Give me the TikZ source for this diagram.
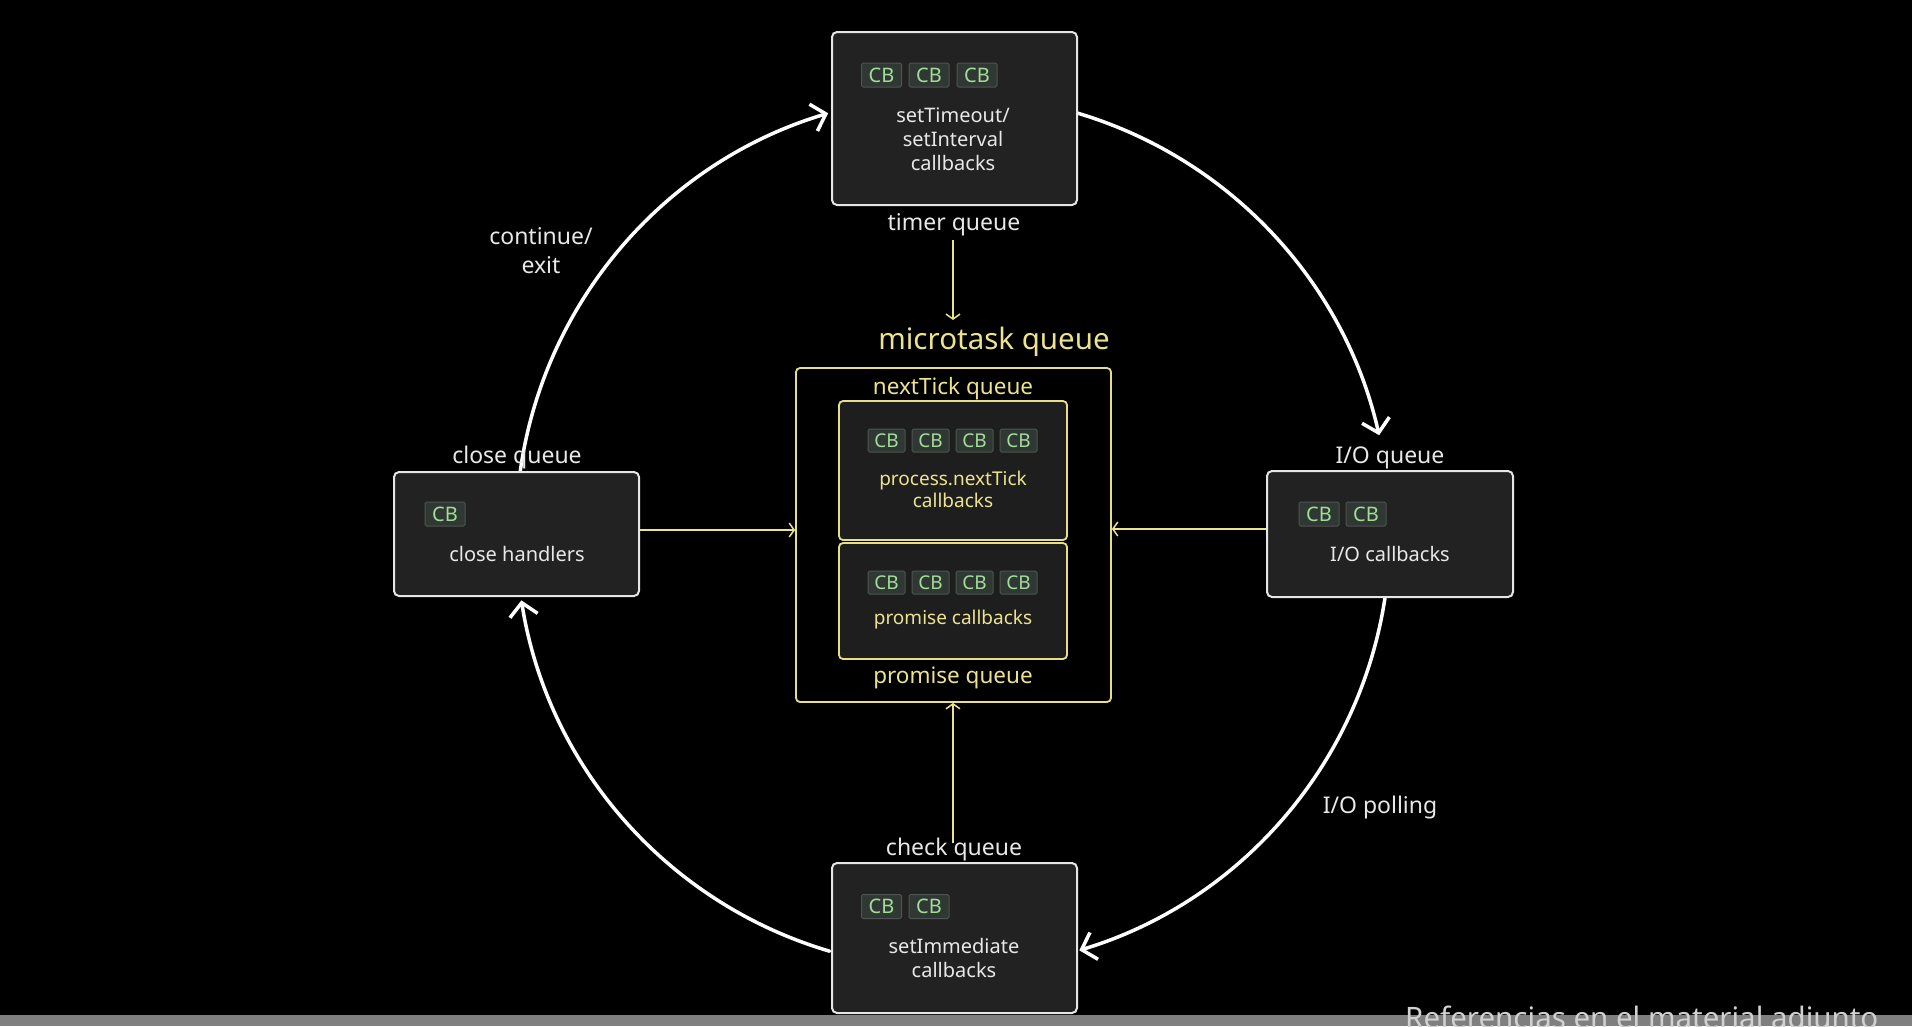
\documentclass[tikz,border=0pt]{standalone}
\usepackage{fontspec}
\setmainfont{Noto Sans}
\usetikzlibrary{arrows.meta,calc}
\definecolor{txtw}{HTML}{E8E8E8}
\definecolor{boxbg}{HTML}{222222}
\definecolor{boxln}{HTML}{E6E6E6}
\definecolor{yel}{HTML}{ECE391}
\definecolor{yelln}{HTML}{E8DE88}
\definecolor{innerbg}{HTML}{1E1E1E}
\definecolor{chipbg}{HTML}{2F3832}
\definecolor{chipln}{HTML}{4E5550}
\definecolor{chipgreen}{HTML}{A4DC9C}
\definecolor{barcol}{HTML}{7F7F7F}
\begin{document}
\begin{tikzpicture}[x=1pt,y=1pt,
  mainbox/.style={draw=boxln, fill=boxbg, line width=2pt, rounded corners=5pt, inner sep=0pt},
  microbox/.style={draw=yelln, fill=black, line width=1.8pt, rounded corners=4pt, inner sep=0pt},
  innerbox/.style={draw=yelln, fill=innerbg, line width=1.8pt, rounded corners=4pt, inner sep=0pt},
  chip/.style={fill=chipbg, draw=chipln, line width=1pt, rounded corners=1.5pt, text=chipgreen,
    font=\fontsize{20}{20}\selectfont, minimum width=40pt, minimum height=24pt, inner sep=0pt},
  mchip/.style={chip, minimum width=37pt, minimum height=23pt, font=\fontsize{19}{19}\selectfont},
  boxtext/.style={text=txtw, align=center, inner sep=0pt, font=\fontsize{20}{24}\selectfont},
  ytext/.style={text=yel, align=center, inner sep=0pt, font=\fontsize{19}{22}\selectfont},
  qlabel/.style={text=txtw, inner sep=0pt, text height=0.75em, text depth=0.25em, font=\fontsize{23}{23}\selectfont},
  yqlabel/.style={text=yel, inner sep=0pt, text height=0.75em, text depth=0.25em, font=\fontsize{22.5}{22.5}\selectfont},
  ring/.style={draw=white, line width=3.5pt, line cap=round, -{Straight Barb[length=13pt,width=28pt]}},
  yarrow/.style={draw=yel, line width=1.5pt, -{Straight Barb[length=5pt,width=14pt]}}
]
\useasboundingbox (0,0) rectangle (1912,-1026);
\clip (0,0) rectangle (1912,-1026);
\fill[black] (0,0) rectangle (1912,-1026);

% ring arcs
\coordinate (C) at (953,-532);
\coordinate (t-out) at ($(C)+(73.55:437)$);
\coordinate (io-out) at ($(C)+(-8.5:437)$);
\coordinate (ch-out) at ($(C)+(-106.4:437)$);
\coordinate (cl-out) at ($(C)+(172:437)$);
\draw[ring] (t-out) arc[start angle=73.55, end angle=12.8, radius=437];
\draw[ring] (io-out) arc[start angle=-8.5, end angle=-73.2, radius=437];
\draw[ring] (ch-out) arc[start angle=-106.4, end angle=-171.0, radius=437];
\draw[ring] (cl-out) arc[start angle=172, end angle=106.6, radius=437];

% main boxes
\node[mainbox, minimum width=245pt, minimum height=173pt] (timer) at (954.5,-118.5) {};
\node[mainbox, minimum width=245pt, minimum height=124pt] (close) at (516.5,-534) {};
\node[mainbox, minimum width=246pt, minimum height=126pt] (io) at (1390,-534) {};
\node[mainbox, minimum width=245pt, minimum height=150pt] (check) at (954.5,-938) {};

% microtask
\node[microbox, minimum width=315pt, minimum height=334pt] (micro) at (953.5,-535) {};
\node[innerbox, minimum width=228pt, minimum height=139pt] (ntbox) at (953,-470.5) {};
\node[innerbox, minimum width=228pt, minimum height=116pt] (prbox) at (953,-601) {};

% chips
\node[chip] (t1) at (881.5,-75) {CB};
\node[chip] (t2) at (929,-75) {CB};
\node[chip] (t3) at (977,-75) {CB};
\node[chip] (c1) at (445,-514) {CB};
\node[chip] (i1) at (1319,-514) {CB};
\node[chip] (i2) at (1366,-514) {CB};
\node[chip] (k1) at (881.5,-906.5) {CB};
\node[chip] (k2) at (929,-906.5) {CB};
\node[mchip] (n1) at (886.5,-440.5) {CB};
\node[mchip] (n2) at (930.5,-440.5) {CB};
\node[mchip] (n3) at (974.5,-440.5) {CB};
\node[mchip] (n4) at (1018.5,-440.5) {CB};
\node[mchip] (p1) at (886.5,-582.5) {CB};
\node[mchip] (p2) at (930.5,-582.5) {CB};
\node[mchip] (p3) at (974.5,-582.5) {CB};
\node[mchip] (p4) at (1018.5,-582.5) {CB};

% box texts
\node[boxtext] (ttext) at (953,-139) {setTimeout/\\setInterval\\callbacks};
\node[boxtext] (ctext) at (517,-554) {close handlers};
\node[boxtext] (itext) at (1390,-554) {I/O callbacks};
\node[boxtext] (ktext) at (954,-958) {setImmediate\\callbacks};
\node[ytext] (ntext) at (953,-489) {process.nextTick\\callbacks};
\node[ytext] (ptext) at (953,-620) {promise callbacks};

% labels
\node[qlabel] (tq) at (954,-228) {timer queue};
\node[qlabel] (clq) at (517,-461) {close queue};
\node[qlabel] (ioq) at (1390,-461) {I/O queue};
\node[qlabel] (chq) at (954,-853) {check queue};
\node[yqlabel] (ntq) at (953,-392) {nextTick queue};
\node[yqlabel] (prq) at (953,-681) {promise queue};
\node[text=yel, inner sep=0pt, text height=0.75em, text depth=0.25em, font=\fontsize{29.5}{29.5}\selectfont] (mq) at (994,-347) {microtask queue};
\node[text=txtw, align=center, inner sep=0pt, font=\fontsize{23}{29}\selectfont] (cont) at (541,-251) {continue/\\exit};
\node[qlabel] (poll) at (1380,-811) {I/O polling};

% yellow connectors
\coordinate (tq-in) at (953,-240);
\coordinate (mq-in) at (953,-320);
\coordinate (chq-out) at (953,-843);
\draw[yarrow] (tq-in) -- (mq-in);
\draw[yarrow] (close.east |- 0,-530) -- (micro.west |- 0,-530);
\draw[yarrow] (io.west |- 0,-529) -- (micro.east |- 0,-529);
\draw[yarrow] (chq-out) -- (micro.south -| chq-out);

% bottom bar
\fill[barcol] (0,-1015) rectangle (1912,-1026);
\node[anchor=base west, inner sep=0pt, text=white!82!black, font=\fontsize{29.5}{29.5}\selectfont] (ref) at (1405,-1028) {Referencias en el material adjunto};
\end{tikzpicture}
\end{document}
